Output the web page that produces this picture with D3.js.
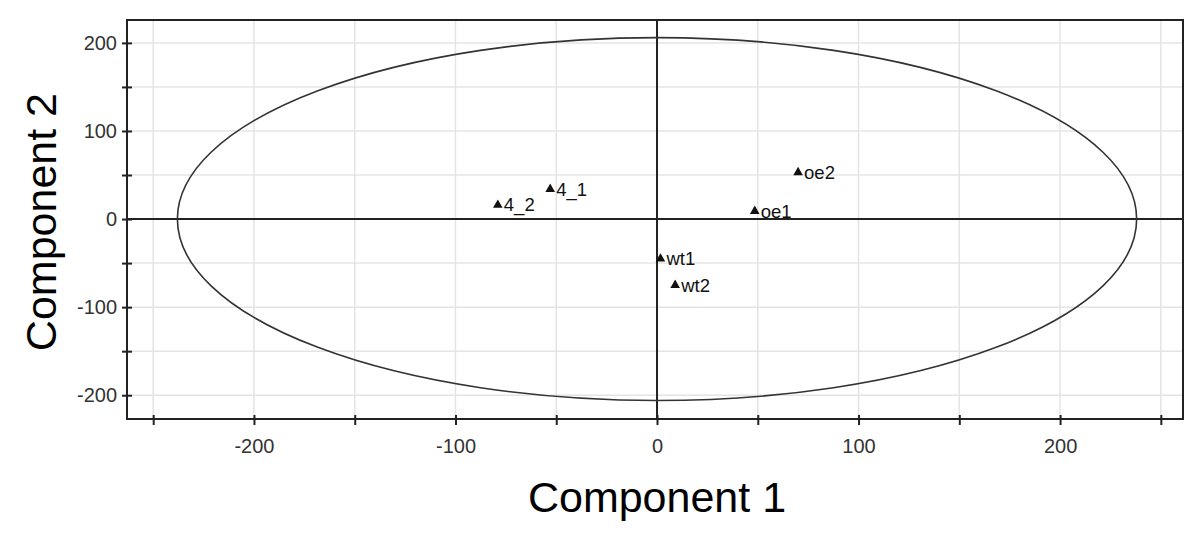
<!DOCTYPE html>
<html>
<head>
<meta charset="utf-8">
<script src="https://cdn.jsdelivr.net/npm/d3@7"></script>
<style>
  body { margin: 0; background: #fff; }
  text { font-family: "Liberation Sans", Arial, sans-serif; }
</style>
</head>
<body>
<div id="mount"></div>
<script>
'use strict';

// scores
const labels = ['4_2', '4_1', 'oe2', 'oe1', 'wt1', 'wt2'];
const comp1 = [-79, -53, 70, 48.5, 1.7, 9];
const comp2 = [16, 34, 53, 9, -45, -75];

const xTicks = [-250, -200, -150, -100, -50, 0, 50, 100, 150, 200, 250];
const yTicks = [-200, -150, -100, -50, 0, 50, 100, 150, 200];
const xLabelTicks = [-200, -100, 0, 100, 200];
const yLabelTicks = [-200, -100, 0, 100, 200];

// confidence ellipse radii
const ellipseR = { x: 238, y: 206 };

const width = 1200, height = 539;
const margin = { top: 20, left: 127, bottom: 120, right: 17 };

const x = d3.scaleLinear().domain([-263, 261]).range([margin.left, width - margin.right]);
const y = d3.scaleLinear().domain([-227, 226]).range([height - margin.bottom, margin.top]);

const svg = d3.select('#mount').append('svg')
    .attr('width', width)
    .attr('height', height);

// grid
svg.append('g').selectAll('line').data(xTicks).join('line')
    .attr('x1', d => x(d)).attr('x2', d => x(d))
    .attr('y1', y.range()[1]).attr('y2', y.range()[0])
    .style('stroke', '#e4e4e4').style('stroke-width', 1.5);
svg.append('g').selectAll('line').data(yTicks).join('line')
    .attr('y1', d => y(d)).attr('y2', d => y(d))
    .attr('x1', x.range()[0]).attr('x2', x.range()[1])
    .style('stroke', '#e4e4e4').style('stroke-width', 1.5);

// zero lines
svg.append('line')
    .attr('x1', x(0)).attr('x2', x(0))
    .attr('y1', y.range()[1]).attr('y2', y.range()[0])
    .style('stroke', '#222').style('stroke-width', 2);
svg.append('line')
    .attr('y1', y(0)).attr('y2', y(0))
    .attr('x1', x.range()[0]).attr('x2', x.range()[1])
    .style('stroke', '#222').style('stroke-width', 2);

// ellipse
svg.append('ellipse')
    .attr('cx', x(0)).attr('cy', y(0))
    .attr('rx', x(ellipseR.x) - x(0))
    .attr('ry', y(0) - y(ellipseR.y))
    .style('fill', 'none').style('stroke', '#333').style('stroke-width', 1.6);

// frame
svg.append('rect')
    .attr('x', x.range()[0]).attr('y', y.range()[1])
    .attr('width', x.range()[1] - x.range()[0])
    .attr('height', y.range()[0] - y.range()[1])
    .style('fill', 'none').style('stroke', '#222').style('stroke-width', 2);

// axes
const xAxis = svg.append('g')
    .attr('transform', `translate(0, ${y.range()[0]})`)
    .call(d3.axisBottom(x).tickValues(xTicks).tickSize(6)
      .tickFormat(d => xLabelTicks.includes(d) ? d : ''));
const yAxis = svg.append('g')
    .attr('transform', `translate(${x.range()[0]}, 0)`)
    .call(d3.axisLeft(y).tickValues(yTicks).tickSize(5)
      .tickFormat(d => yLabelTicks.includes(d) ? d : ''));

[xAxis, yAxis].forEach(g => {
  g.select('.domain').remove();
  g.selectAll('.tick line').style('stroke', '#222').style('stroke-width', 2);
  g.selectAll('.tick text')
      .style('font-size', '20px')
      .style('fill', '#333')
      .style('font-family', '"Liberation Sans", Arial, sans-serif');
});
xAxis.selectAll('.tick line').attr('y1', -4);
xAxis.selectAll('.tick text').attr('y', 20);
yAxis.selectAll('.tick line').attr('x1', 5);
yAxis.selectAll('.tick text').attr('x', -10);

// points
const points = labels.map((l, i) => ({ label: l, c1: comp1[i], c2: comp2[i] }));
const tri = d3.symbol().type(d3.symbolTriangle).size(40);

const pt = svg.append('g').selectAll('g').data(points).join('g')
    .attr('transform', d => `translate(${x(d.c1)}, ${y(d.c2)})`);
pt.append('path').attr('d', tri).style('fill', '#111');
pt.append('text')
    .attr('x', 6).attr('y', 6.5)
    .style('font-size', '18.5px')
    .style('fill', '#111')
    .text(d => d.label);

// axis titles
svg.append('text')
    .attr('x', x(0)).attr('y', 512)
    .attr('text-anchor', 'middle')
    .style('font-size', '43px')
    .text('Component 1');
svg.append('text')
    .attr('transform', `translate(56, ${y(0) + 3}) rotate(-90)`)
    .attr('text-anchor', 'middle')
    .style('font-size', '43px')
    .text('Component 2');
</script>
</body>
</html>
